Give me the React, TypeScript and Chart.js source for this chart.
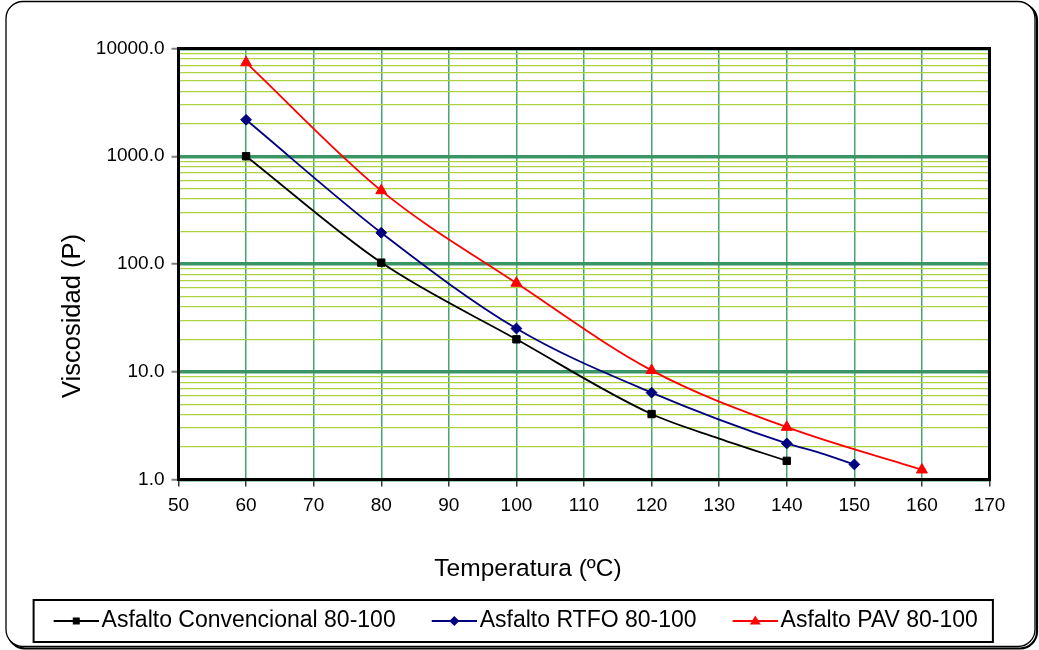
import React, { useEffect, useRef } from "react";
import { Chart, registerables } from "chart.js";

Chart.register(...registerables);

// ---------------- data ----------------
const convTemps = [60, 80, 100, 120, 130, 140];
const convVisc = [1000, 103, 20, 4.05, 2.4, 1.49];
const convMarked = [1, 1, 1, 1, 0, 1];

const rtfoTemps = [60, 80, 100, 120, 140, 145, 150];
const rtfoVisc = [2180, 195, 25.2, 6.4, 2.16, 1.76, 1.38];
const rtfoMarked = [1, 1, 1, 1, 1, 0, 1];

const pavTemps = [60, 80, 100, 120, 140, 160];
const pavVisc = [7400, 480, 66.5, 10.3, 3.06, 1.23];
const pavMarked = [1, 1, 1, 1, 1, 1];

const seriesNames = [
  "Asfalto Convencional 80-100",
  "Asfalto RTFO 80-100",
  "Asfalto PAV 80-100",
];

const xTickValues = [50, 60, 70, 80, 90, 100, 110, 120, 130, 140, 150, 160, 170];
const yDecades = [1, 10, 100, 1000, 10000];
const yMinorSteps = [2, 3, 4, 5, 6, 7, 8, 9];

const xTitle = "Temperatura (ºC)";
const yTitle = "Viscosidad (P)";

// ---------------- helpers ----------------
const FONT = "'Liberation Sans', Arial, sans-serif";

const yTickValues: number[] = [];
yDecades.forEach((d, i) => {
  yTickValues.push(d);
  if (i < yDecades.length - 1) yMinorSteps.forEach((m) => yTickValues.push(d * m));
});
yTickValues.sort((a, b) => a - b);

const isDecade = (v: number) =>
  Math.abs(Math.log10(v) - Math.round(Math.log10(v))) < 1e-6;

const toPoints = (xs: number[], ys: number[]) => xs.map((x, i) => ({ x, y: ys[i] }));

function roundRect(ctx: CanvasRenderingContext2D, x: number, y: number, w: number, h: number, r: number) {
  ctx.beginPath();
  ctx.moveTo(x + r, y);
  ctx.lineTo(x + w - r, y);
  ctx.arcTo(x + w, y, x + w, y + r, r);
  ctx.lineTo(x + w, y + h - r);
  ctx.arcTo(x + w, y + h, x + w - r, y + h, r);
  ctx.lineTo(x + r, y + h);
  ctx.arcTo(x, y + h, x, y + h - r, r);
  ctx.lineTo(x, y + r);
  ctx.arcTo(x, y, x + r, y, r);
  ctx.closePath();
}

function makeIcon(color: string, shape: string) {
  const W = 90;
  const H = 16;
  const c = document.createElement("canvas");
  c.width = W;
  c.height = H;
  const g = c.getContext("2d")!;
  const cy = H / 2;
  g.strokeStyle = color;
  g.lineWidth = 1.8;
  g.beginPath();
  g.moveTo(44.75, cy);
  g.lineTo(90, cy);
  g.stroke();
  const cx = 67.4;
  g.fillStyle = color;
  g.beginPath();
  if (shape === "rect") {
    g.rect(cx - 3.5, cy - 3.5, 7, 7);
  } else if (shape === "rectRot") {
    g.moveTo(cx, cy - 5);
    g.lineTo(cx + 5, cy);
    g.lineTo(cx, cy + 5);
    g.lineTo(cx - 5, cy);
    g.closePath();
  } else {
    g.moveTo(cx, cy - 5.5);
    g.lineTo(cx + 5.5, cy + 3.5);
    g.lineTo(cx - 5.5, cy + 3.5);
    g.closePath();
  }
  g.fill();
  return c;
}

const framePlugin = {
  id: "outerFrame",
  beforeDraw(chart: any) {
    const ctx = chart.ctx as CanvasRenderingContext2D;
    ctx.save();
    ctx.fillStyle = "#ffffff";
    ctx.fillRect(0, 0, chart.width, chart.height);
    ctx.strokeStyle = "#000";
    roundRect(ctx, 8, 3.5, 1029, 645, 17);
    ctx.lineWidth = 2.2;
    ctx.stroke();
    roundRect(ctx, 6, 1.5, 1029, 645, 17);
    ctx.fillStyle = "#ffffff";
    ctx.fill();
    ctx.lineWidth = 1.3;
    ctx.stroke();
    ctx.restore();
  },
};

const plotBorderPlugin = {
  id: "plotBorder",
  afterDatasetsDraw(chart: any) {
    const { ctx, chartArea } = chart;
    ctx.save();
    ctx.strokeStyle = "#000";
    ctx.lineWidth = 3;
    ctx.strokeRect(chartArea.left, chartArea.top, chartArea.right - chartArea.left, chartArea.bottom - chartArea.top);
    ctx.restore();
  },
};

const titlesPlugin = {
  id: "axisTitles",
  afterDraw(chart: any) {
    const ctx = chart.ctx as CanvasRenderingContext2D;
    ctx.save();
    ctx.fillStyle = "#000";
    ctx.textAlign = "center";
    ctx.textBaseline = "alphabetic";
    ctx.font = `24.5px ${FONT}`;
    ctx.fillText(xTitle, 528, 576);
    ctx.translate(79.5, 316);
    ctx.rotate(-Math.PI / 2);
    ctx.font = `25.5px ${FONT}`;
    ctx.fillText(yTitle, 0, 0);
    ctx.restore();
  },
};

const legendFramePlugin = {
  id: "legendFrame",
  afterDraw(chart: any) {
    const legend = chart.legend;
    if (!legend || !legend.legendHitBoxes || !legend.legendHitBoxes.length) return;
    const boxes = legend.legendHitBoxes;
    const first = boxes[0];
    const last = boxes[boxes.length - 1];
    const left = first.left + 16;
    const right = last.left + last.width + 15;
    const cy = first.top + first.height / 2;
    const ctx = chart.ctx as CanvasRenderingContext2D;
    ctx.save();
    ctx.strokeStyle = "#000";
    ctx.lineWidth = 2;
    ctx.strokeRect(left, cy - 21, right - left, 42);
    ctx.restore();
  },
};

export default function App() {
  const canvasRef = useRef<HTMLCanvasElement | null>(null);

  useEffect(() => {
    if (!canvasRef.current) return;
    const colors = ["#000000", "#000080", "#ff0000"];
    const shapes = ["rect", "rectRot", "triangle"];
    const icons = colors.map((c, i) => makeIcon(c, shapes[i]));
    const radii = [5.2, 5.4, 6.3];

    const mk = (i: number, xs: number[], ys: number[], marked: number[]) => ({
      label: seriesNames[i],
      data: toPoints(xs, ys),
      borderColor: colors[i],
      backgroundColor: colors[i],
      borderWidth: 1.8,
      pointStyle: shapes[i],
      pointRadius: marked.map((m) => (m ? radii[i] : 0)),
      pointHoverRadius: marked.map((m) => (m ? radii[i] : 0)),
      pointBackgroundColor: colors[i],
      pointBorderColor: colors[i],
      pointBorderWidth: 1,
      cubicInterpolationMode: "monotone" as const,
      fill: false,
    });

    const chart = new Chart(canvasRef.current, {
      type: "line",
      data: {
        datasets: [
          mk(0, convTemps, convVisc, convMarked),
          mk(1, rtfoTemps, rtfoVisc, rtfoMarked),
          mk(2, pavTemps, pavVisc, pavMarked),
        ],
      },
      options: {
        responsive: false,
        devicePixelRatio: 1,
        animation: false,
        events: [],
        layout: { padding: { left: 6, right: 49.5, top: 48.5, bottom: 7.5 } },
        scales: {
          x: {
            type: "linear",
            min: 50,
            max: 170,
            afterBuildTicks: (s: any) => {
              s.ticks = xTickValues.map((v) => ({ value: v }));
            },
            afterFit: (s: any) => {
              s.height = 130;
            },
            ticks: {
              autoSkip: false,
              maxRotation: 0,
              color: "#000",
              font: { size: 19, family: FONT },
              padding: 8,
              callback: (v: any) => String(v),
            },
            grid: {
              color: "#45a670",
              lineWidth: 1.5,
              tickLength: 7,
              tickColor: "#333333",
              tickWidth: 1.5,
            },
            border: { display: false },
          },
          y: {
            type: "logarithmic",
            min: 1,
            max: 10000,
            afterBuildTicks: (s: any) => {
              s.ticks = yTickValues.map((v) => ({ value: v }));
            },
            afterFit: (s: any) => {
              s.width = 172.5;
            },
            ticks: {
              autoSkip: false,
              color: "#000",
              font: { size: 19, family: FONT },
              padding: 7,
              callback: (v: any) => (isDecade(Number(v)) ? Number(v).toFixed(1) : ""),
            },
            grid: {
              color: (c: any) => (c.tick && isDecade(c.tick.value) ? "#3a9464" : "#acd23e"),
              lineWidth: (c: any) => (c.tick && isDecade(c.tick.value) ? 3.5 : 1.3),
              tickLength: 7,
              tickColor: (c: any) => (c.tick && isDecade(c.tick.value) ? "#808080" : "rgba(0,0,0,0)"),
              tickWidth: 2,
            },
            border: { display: false },
          },
        },
        plugins: {
          legend: {
            display: true,
            position: "bottom",
            align: "center",
            labels: {
              usePointStyle: true,
              pointStyleWidth: 72.5,
              padding: 0,
              color: "#000",
              font: { size: 23, family: FONT },
              generateLabels: (ch: any) =>
                ch.data.datasets.map((ds: any, i: number) => ({
                  text: ds.label,
                  pointStyle: icons[i],
                  fillStyle: colors[i],
                  strokeStyle: colors[i],
                  lineWidth: 0,
                  hidden: false,
                  datasetIndex: i,
                  fontColor: "#000",
                })),
            },
          },
          title: { display: false },
          tooltip: { enabled: false },
        },
      },
      plugins: [framePlugin, plotBorderPlugin, titlesPlugin, legendFramePlugin],
    } as any);

    return () => chart.destroy();
  }, []);

  return (
    <div style={{ position: "absolute", left: 0, top: 0, width: 1039, height: 650 }}>
      <canvas ref={canvasRef} width={1039} height={650} style={{ display: "block", width: 1039, height: 650 }} />
    </div>
  );
}
